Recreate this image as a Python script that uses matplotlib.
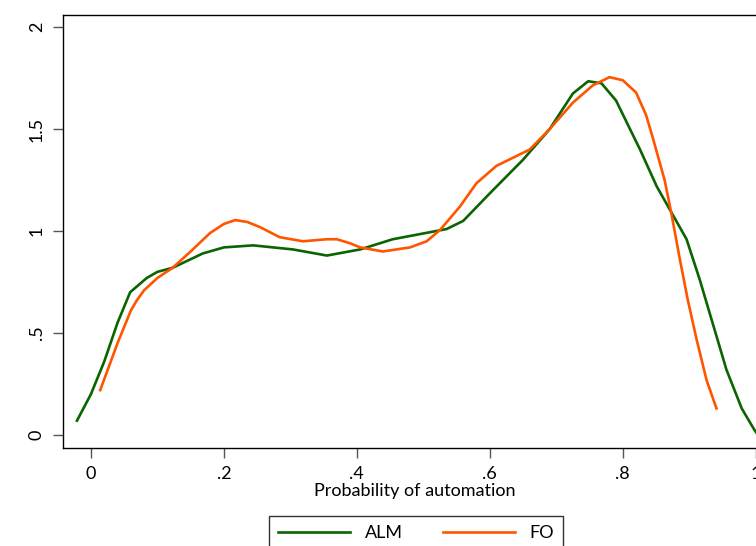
import numpy as np
import matplotlib.pyplot as plt

plt.rcParams['font.family'] = ['Lato', 'DejaVu Sans']

# ALM density (green)
alm_x = [-0.021, 0.0, 0.02, 0.04, 0.059, 0.084, 0.1, 0.123, 0.168, 0.2, 0.244, 0.304,
         0.355, 0.405, 0.454, 0.535, 0.56, 0.6, 0.65, 0.69, 0.725, 0.748, 0.768,
         0.79, 0.826, 0.851, 0.896, 0.916, 0.956, 0.979, 0.998, 1.01]
alm_y = [0.07, 0.20, 0.36, 0.55, 0.70, 0.77, 0.80, 0.82, 0.89, 0.92, 0.93, 0.91,
         0.88, 0.91, 0.96, 1.01, 1.05, 1.185, 1.35, 1.50, 1.675, 1.735, 1.725,
         1.64, 1.40, 1.22, 0.96, 0.76, 0.32, 0.13, 0.025, -0.03]

# FO density (orange)
fo_x = [0.014, 0.04, 0.06, 0.069, 0.08, 0.1, 0.123, 0.15, 0.179, 0.2, 0.217, 0.235,
        0.254, 0.284, 0.319, 0.355, 0.37, 0.39, 0.405, 0.439, 0.48, 0.505, 0.525,
        0.555, 0.58, 0.61, 0.635, 0.66, 0.69, 0.725, 0.755, 0.78, 0.8, 0.82,
        0.835, 0.845, 0.863, 0.873, 0.886, 0.898, 0.911, 0.926, 0.941]
fo_y = [0.22, 0.45, 0.61, 0.66, 0.71, 0.77, 0.82, 0.90, 0.99, 1.035, 1.054, 1.045,
        1.02, 0.97, 0.95, 0.96, 0.96, 0.94, 0.92, 0.90, 0.92, 0.95, 1.005,
        1.12, 1.235, 1.32, 1.36, 1.40, 1.50, 1.63, 1.715, 1.755, 1.74, 1.68,
        1.57, 1.46, 1.25, 1.09, 0.86, 0.66, 0.47, 0.27, 0.13]

xticks = [0, 0.2, 0.4, 0.6, 0.8, 1.0]
xtick_labels = ['0', '.2', '.4', '.6', '.8', '1']
yticks = [0, 0.5, 1, 1.5, 2]
ytick_labels = ['0', '.5', '1', '1.5', '2']

fig = plt.figure(figsize=(7.56, 5.46), dpi=100)
# axes deliberately runs past the right edge, as in the cropped original
ax = fig.add_axes([63 / 756, 1 - 448 / 546, (767 - 63) / 756, (448 - 15) / 546])

ax.plot(alm_x, alm_y, color='#0a6400', lw=1.9, label='ALM')
ax.plot(fo_x, fo_y, color='#ff5500', lw=1.9, label='FO', solid_joinstyle='round')

ax.set_xlim(-0.042, 1.017)
ax.set_ylim(-0.064, 2.06)
ax.set_xticks(xticks)
ax.set_xticklabels(xtick_labels, fontsize=13)
ax.set_yticks(yticks)
ax.set_yticklabels(ytick_labels, fontsize=13, rotation=90, va='center')
ax.tick_params(direction='out', length=7, width=1, color='#555555', pad=6)
for s in ax.spines.values():
    s.set_linewidth(1.0)
ax.set_xlabel('Probability of automation', fontsize=13, labelpad=1)

fig.legend(loc='upper center', bbox_to_anchor=(416 / 756, 1 - 507 / 546), ncol=2,
           frameon=True, fancybox=False, edgecolor='black', fontsize=13,
           handlelength=4.0, columnspacing=2.2, borderpad=0.5)

fig.savefig('out.png', dpi=100)
